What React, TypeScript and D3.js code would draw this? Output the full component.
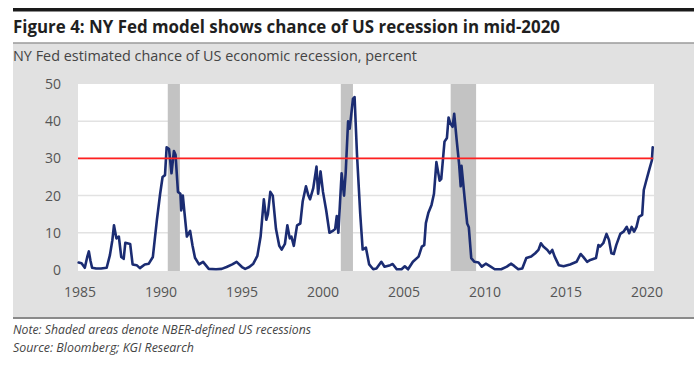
import * as d3 from 'd3'

// NY Fed recession probability: [decimal year, percent]
const probability: [number, number][] = [
  [1984.92, 2.0], [1985.1, 1.8], [1985.3, 0.6], [1985.45, 3.5], [1985.55, 5.0], [1985.65, 2.5],
  [1985.75, 0.6], [1986.0, 0.4], [1986.3, 0.4], [1986.65, 0.6], [1986.85, 4.0], [1987.0, 8],
  [1987.1, 12], [1987.25, 8.5], [1987.4, 9], [1987.55, 3.5], [1987.7, 3], [1987.8, 7.3],
  [1988.1, 7], [1988.25, 1.5], [1988.5, 1.3], [1988.7, 0.5], [1989.0, 1.5], [1989.25, 1.7],
  [1989.5, 3.5], [1989.75, 13.5], [1989.95, 20.5], [1990.1, 25], [1990.25, 25.5], [1990.35, 33],
  [1990.5, 32.5], [1990.65, 26], [1990.8, 32], [1990.9, 31], [1991.05, 21], [1991.2, 20.5],
  [1991.25, 16], [1991.35, 20], [1991.45, 15.5], [1991.6, 9], [1991.8, 10.5], [1991.95, 6.5],
  [1992.1, 3.3], [1992.35, 1.5], [1992.6, 2.2], [1992.95, 0.3], [1993.4, 0.2], [1993.75, 0.3],
  [1994.05, 0.8], [1994.4, 1.5], [1994.67, 2.2], [1995.0, 0.8], [1995.2, 0.3], [1995.45, 0.8],
  [1995.7, 1.7], [1995.95, 3.8], [1996.15, 9], [1996.35, 19], [1996.5, 13.5], [1996.6, 15],
  [1996.75, 21], [1996.9, 20], [1997.1, 11], [1997.3, 6.5], [1997.45, 5.5], [1997.65, 7],
  [1997.8, 12], [1997.95, 8.5], [1998.05, 9], [1998.2, 6.5], [1998.4, 12], [1998.6, 12.5],
  [1998.75, 18.5], [1998.95, 22.5], [1999.1, 20], [1999.2, 19], [1999.4, 22], [1999.6, 27.8],
  [1999.7, 20.5], [1999.85, 26.5], [2000.0, 21], [2000.2, 16], [2000.4, 10], [2000.6, 10.5],
  [2000.75, 11], [2000.85, 14.5], [2000.95, 10], [2001.15, 26], [2001.3, 20], [2001.4, 26],
  [2001.55, 40], [2001.65, 38], [2001.85, 46], [2001.95, 46.5], [2002.1, 31], [2002.3, 15],
  [2002.45, 5.5], [2002.65, 6], [2002.85, 1.5], [2003.1, 0.2], [2003.3, 0.4], [2003.6, 2.2],
  [2003.8, 0.9], [2004.15, 1.3], [2004.3, 1.6], [2004.55, 0.2], [2004.85, 0.2], [2005.05, 1],
  [2005.25, 0.2], [2005.55, 2.2], [2005.9, 3.6], [2006.1, 6.3], [2006.25, 6.7], [2006.35, 12.6],
  [2006.5, 15.3], [2006.7, 17.5], [2006.85, 20.5], [2007.0, 29], [2007.2, 24], [2007.3, 24.5],
  [2007.5, 34.5], [2007.65, 35.5], [2007.75, 41], [2007.85, 39.5], [2008.0, 38.5], [2008.1, 42],
  [2008.25, 35], [2008.4, 28.5], [2008.5, 22.5], [2008.55, 28], [2008.75, 19], [2008.9, 12.5],
  [2009.0, 11.5], [2009.15, 3.2], [2009.35, 2.2], [2009.6, 2], [2009.8, 0.9], [2010.05, 1.7],
  [2010.35, 0.9], [2010.6, 0.2], [2011.0, 0.2], [2011.35, 0.9], [2011.6, 1.7], [2011.8, 1.1],
  [2012.05, 0.2], [2012.3, 0.4], [2012.55, 3.2], [2012.85, 3.6], [2013.1, 4.5], [2013.3, 5.4],
  [2013.45, 7.2], [2013.6, 6.3], [2013.85, 5.4], [2014.0, 4.5], [2014.15, 5.4], [2014.3, 3.6],
  [2014.55, 1.3], [2014.85, 1], [2015.25, 1.5], [2015.65, 2.2], [2015.9, 4.3], [2016.05, 3.6],
  [2016.3, 2.2], [2016.5, 2.7], [2016.85, 3.2], [2017.0, 6.7], [2017.1, 6.3], [2017.3, 7.2],
  [2017.5, 9.7], [2017.65, 8.1], [2017.8, 4.5], [2017.95, 4.3], [2018.1, 6.7], [2018.35, 9.7],
  [2018.55, 10.3], [2018.75, 11.6], [2018.9, 9.9], [2019.05, 11.6], [2019.2, 10.3], [2019.35, 11.6],
  [2019.5, 14.3], [2019.7, 14.8], [2019.8, 21.5], [2019.95, 24], [2020.15, 27.2], [2020.3, 29.5],
  [2020.35, 33],
]

// NBER recessions (start, end) in decimal years
const recessions: [number, number][] = [
  [1990.42, 1991.17],
  [2001.1, 2001.85],
  [2007.88, 2009.45],
]

const threshold = 30
const xTicks = [1985, 1990, 1995, 2000, 2005, 2010, 2015, 2020]
const yTicks = [0, 10, 20, 30, 40, 50]

const title = 'Figure 4: NY Fed model shows chance of US recession in mid-2020'
const subtitle = 'NY Fed estimated chance of US economic recession, percent'
const note = 'Note: Shaded areas denote NBER-defined US recessions'
const source = 'Source: Bloomberg; KGI Research'

const W = 700
const H = 366
const plot = { left: 78, right: 654, top: 84, bottom: 271 }

export default function App() {
  const x = d3.scaleLinear().domain([1984.88, 2020.43]).range([plot.left, plot.right])
  const y = d3.scaleLinear().domain([0, 50]).range([270, 84])

  const line = d3.line<[number, number]>()
    .x(d => x(d[0]))
    .y(d => y(d[1]))

  const font = '"Open Sans", "DejaVu Sans", sans-serif'

  return (
    <div style={{ position: 'absolute', left: 0, top: 0, width: W, height: H, background: '#fff' }}>
      <svg width={W} height={H} style={{ display: 'block' }}>
        {/* header */}
        <rect x={13} y={8} width={681} height={3.5} fill="#1a1a1a" />
        <text x={13} y={33} fontFamily={font} fontWeight="bold" fontSize={17} fill="#1f1f1f"
          textLength={547} lengthAdjust="spacingAndGlyphs">{title}</text>

        {/* grey panel */}
        <rect x={13} y={43} width={681} height={275} fill="#e1e1e1" />
        <line x1={13} x2={694} y1={43} y2={43} stroke="#9a9a9a" strokeWidth={1.5} />
        <line x1={13} x2={694} y1={318} y2={318} stroke="#8a8a8a" strokeWidth={2} />
        <text x={13} y={60.5} fontFamily={font} fontSize={14} fill="#444"
          textLength={404} lengthAdjust="spacingAndGlyphs">{subtitle}</text>

        {/* plot area */}
        <rect x={plot.left} y={plot.top} width={plot.right - plot.left} height={plot.bottom - plot.top} fill="#fff" />
        {yTicks.filter(t => t > 0 && t < 50).map(t => (
          <line key={t} x1={plot.left} x2={plot.right} y1={y(t)} y2={y(t)} stroke="#e2e2e2" strokeWidth={1.5} />
        ))}
        {recessions.map(([a, b]) => (
          <rect key={a} x={x(a)} y={plot.top} width={x(b) - x(a)} height={plot.bottom - plot.top} fill="#c3c3c3" />
        ))}

        <path d={line(probability) ?? ''} fill="none" stroke="#1b2c72" strokeWidth={2.6}
          strokeLinejoin="round" strokeLinecap="round" />
        <line x1={plot.left} x2={x(2020.38)} y1={y(threshold)} y2={y(threshold)} stroke="#ff2020" strokeWidth={1.6} />

        {/* axes labels */}
        {yTicks.map(t => (
          <text key={t} x={61} y={y(t)} dy="0.35em" textAnchor="end" fontFamily={font} fontSize={14} fill="#555">{t}</text>
        ))}
        {xTicks.map(t => (
          <text key={t} x={x(t)} y={297} textAnchor="middle" fontFamily={font} fontSize={14} fill="#555">{t}</text>
        ))}

        {/* footer */}
        <text x={13} y={334} fontFamily={font} fontStyle="italic" fontSize={12} fill="#444"
          textLength={298} lengthAdjust="spacingAndGlyphs">{note}</text>
        <text x={13} y={351.5} fontFamily={font} fontStyle="italic" fontSize={12} fill="#444"
          textLength={181} lengthAdjust="spacingAndGlyphs">{source}</text>
      </svg>
    </div>
  )
}
